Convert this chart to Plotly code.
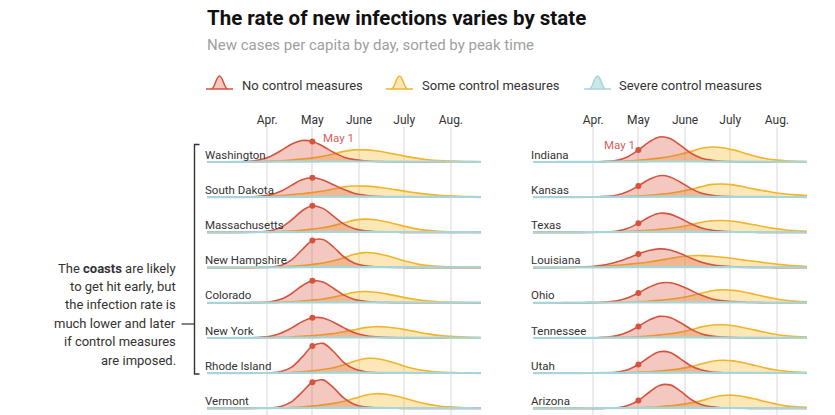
import pandas as pd
import plotly.graph_objects as go

W, H = 835, 415

# ---------------- data ----------------
# weekly samples, Feb 21 2020 .. Aug 21 2020 (27 points, includes May 1)
DATES = pd.date_range("2020-02-21", "2020-08-21", freq="7D")
MAY1 = pd.Timestamp("2020-05-01")

TICK_DATES = ["2020-04-01", "2020-05-01", "2020-06-01", "2020-07-01", "2020-08-01"]
TICK_LABELS = ["Apr.", "May", "June", "July", "Aug."]

LEFT_STATES = ["Washington", "South Dakota", "Massachusetts", "New Hampshire",
               "Colorado", "New York", "Rhode Island", "Vermont"]
RIGHT_STATES = ["Indiana", "Kansas", "Texas", "Louisiana",
                "Ohio", "Tennessee", "Utah", "Arizona"]

# new cases per capita by day (relative units), no control measures
wa_none = [0,0,0,0.2,0.7,2.2,5.6,11.3,17.7,21.5,20.5,15.8,9.7,4.8,2.4,1.2,0.5,0.3,0.1,0,0,0,0,0,0,0,0]
sd_none = [0,0,0,0.1,0.2,0.8,2.3,5.9,11.8,17.5,19.5,17.2,12.5,7.6,3.8,2.0,1.0,0.5,0.3,0.1,0,0,0,0,0,0,0]
ma_none = [0,0,0,0,0.1,0.4,1.5,5.0,12.2,21.4,26.6,24.0,16.2,8.3,3.6,1.5,0.7,0.3,0.1,0,0,0,0,0,0,0,0]
nh_none = [0,0,0,0,0,0.1,0.5,2.2,7.5,17.6,27.2,28.1,20.6,10.6,4.4,1.8,0.7,0.3,0.1,0,0,0,0,0,0,0,0]
co_none = [0,0,0,0,0.1,0.3,1.1,3.5,9.1,16.8,22.0,20.7,14.6,7.7,3.3,1.5,0.6,0.3,0.1,0,0,0,0,0,0,0,0]
ny_none = [0,0,0,0.1,0.2,0.7,1.8,4.8,9.9,16.1,20.2,20.0,15.8,10.1,5.2,2.5,1.2,0.6,0.3,0.1,0,0,0,0,0,0,0]
ri_none = [0,0,0,0,0,0.1,0.3,1.6,5.9,15.8,27.1,29.8,21.7,10.6,4.1,1.5,0.5,0.2,0.1,0,0,0,0,0,0,0,0]
vt_none = [0,0,0,0,0,0.1,0.4,1.8,6.5,16.0,26.1,28.5,20.7,10.2,3.9,1.5,0.5,0.2,0.1,0,0,0,0,0,0,0,0]
in_none = [0,0,0,0,0,0,0.2,0.6,1.8,5.3,11.9,19.9,25.0,23.5,16.6,8.7,3.8,1.7,0.7,0.3,0.1,0,0,0,0,0,0]
ks_none = [0,0,0,0,0,0.1,0.2,0.8,2.2,5.6,11.3,17.7,21.5,20.3,15.0,8.6,3.9,1.8,0.9,0.4,0.2,0.1,0,0,0,0,0]
tx_none = [0,0,0,0,0,0,0.1,0.4,1.4,4.1,9.1,15.2,19.1,18.3,14.0,8.6,4.3,2.1,1.1,0.5,0.2,0.1,0,0,0,0,0]
la_none = [0,0,0,0.1,0.3,0.7,1.5,3.1,5.8,9.5,13.7,17.1,18.7,17.6,14.0,9.3,5.3,2.8,1.5,0.8,0.4,0.2,0.1,0,0,0,0]
oh_none = [0,0,0,0,0,0.1,0.3,0.8,2.0,5.1,9.9,15.5,19.6,20.0,17.1,12.3,7.5,3.9,2.0,1.2,0.6,0.3,0.1,0,0,0,0]
tn_none = [0,0,0,0,0,0.1,0.3,0.9,2.4,5.9,11.6,17.9,21.6,20.4,15.2,8.9,4.1,1.9,0.9,0.4,0.2,0.1,0,0,0,0,0]
ut_none = [0,0,0,0,0,0,0.1,0.3,1.1,3.5,8.7,16.0,21.4,20.8,14.4,7.2,3.1,1.2,0.5,0.2,0.1,0,0,0,0,0,0]
az_none = [0,0,0,0,0,0,0,0.2,0.7,2.8,7.9,15.9,23.0,23.5,17.3,8.9,3.6,1.5,0.6,0.2,0.1,0,0,0,0,0,0]

# some control measures
wa_some = [0,0,0.1,0.2,0.3,0.5,0.8,1.2,2.0,3.0,4.1,5.8,8.0,10.6,12.1,12.1,11.2,9.5,7.5,5.4,3.6,2.3,1.5,1.0,0.7,0.4,0.3]
sd_some = [0,0,0.1,0.2,0.4,0.8,1.1,1.7,2.5,3.4,4.6,6.2,8.2,10.3,11.2,11.1,10.3,8.9,7.3,5.6,4.1,2.8,1.8,1.3,0.9,0.6,0.4]
ma_some = [0,0,0,0.1,0.1,0.3,0.5,0.9,1.4,2.2,3.3,4.7,6.8,9.6,12.3,13.3,12.6,10.6,8.1,5.5,3.3,2.0,1.2,0.7,0.4,0.3,0.1]
nh_some = [0,0,0,0.1,0.1,0.2,0.4,0.7,1.2,2.0,3.2,4.6,6.8,9.8,13.3,15.0,14.3,12.1,9.1,6.0,3.5,2.1,1.2,0.8,0.4,0.2,0.1]
co_some = [0,0,0,0,0.1,0.2,0.3,0.6,1.0,1.7,2.7,3.8,5.8,8.2,10.6,11.3,10.6,8.9,6.9,4.7,2.9,1.8,1.1,0.7,0.4,0.2,0.1]
ny_some = [0,0,0,0.1,0.1,0.2,0.5,0.7,1.0,1.6,2.4,3.2,4.4,6.2,8.3,10.4,11.3,11.0,9.8,8.0,6.0,4.1,2.6,1.7,1.1,0.7,0.5]
ri_some = [0,0,0,0,0,0.1,0.2,0.4,0.7,1.3,2.3,3.7,5.5,8.4,12.0,14.7,14.7,12.7,9.6,6.3,3.7,2.1,1.2,0.7,0.4,0.2,0.1]
vt_some = [0,0,0,0,0.1,0.1,0.3,0.5,0.9,1.4,2.3,3.5,5.0,7.1,10.1,13.2,14.7,14.1,12.1,9.4,6.4,4.0,2.4,1.5,0.9,0.5,0.3]
in_some = [0,0,0,0,0,0.1,0.2,0.4,0.7,1.1,1.8,2.7,3.9,5.5,7.8,10.7,13.7,15.0,14.3,12.1,9.1,6.0,3.5,2.1,1.2,0.8,0.4]
ks_some = [0,0,0,0,0,0.1,0.1,0.3,0.5,0.8,1.2,1.9,2.9,4.0,5.7,7.8,10.6,12.8,13.2,12.3,10.4,8.1,6.3,4.5,3.2,2.3,1.7]
tx_some = [0,0,0,0,0,0.1,0.2,0.4,0.6,0.9,1.4,2.1,3.0,4.1,5.6,7.7,10.2,11.7,11.9,11.1,9.5,7.6,5.6,3.8,2.4,1.7,1.0]
la_some = [0,0,0,0.1,0.2,0.5,1.0,1.6,2.4,3.3,4.3,5.6,7.2,9.1,10.8,11.8,12.0,11.4,10.4,9.1,7.5,6.3,4.9,3.6,2.5,1.7,1.1]
oh_some = [0,0,0,0,0,0,0.1,0.2,0.4,0.6,1.0,1.6,2.5,3.5,5.0,7.1,9.6,12.1,13.0,12.4,10.8,8.6,6.2,4.1,2.5,1.6,1.0]
tn_some = [0,0,0,0,0,0.1,0.2,0.3,0.5,0.8,1.3,2.0,3.1,4.2,5.9,8.2,11.1,13.0,13.2,12.2,10.3,8.1,5.8,3.8,2.3,1.5,1.0]
ut_some = [0,0,0,0,0,0,0,0.1,0.3,0.5,0.8,1.4,2.1,3.2,4.6,6.6,9.4,12.0,13.0,12.3,10.4,7.9,5.3,3.2,2.0,1.2,0.7]
az_some = [0,0,0,0,0,0,0,0.1,0.2,0.4,0.6,1.0,1.7,2.7,3.8,5.5,7.8,10.9,12.9,13.2,11.8,9.6,6.9,4.5,2.5,1.6,1.0]

# severe control measures: barely above zero in every state
severe = [0,0,0,0.1,0.1,0.2,0.2,0.3,0.3,0.4,0.4,0.5,0.5,0.5,0.5,0.5,0.5,0.4,0.4,0.4,0.3,0.3,0.3,0.2,0.2,0.2,0.1]

NONE = {"Washington": wa_none, "South Dakota": sd_none, "Massachusetts": ma_none,
        "New Hampshire": nh_none, "Colorado": co_none, "New York": ny_none,
        "Rhode Island": ri_none, "Vermont": vt_none, "Indiana": in_none,
        "Kansas": ks_none, "Texas": tx_none, "Louisiana": la_none, "Ohio": oh_none,
        "Tennessee": tn_none, "Utah": ut_none, "Arizona": az_none}
SOME = {"Washington": wa_some, "South Dakota": sd_some, "Massachusetts": ma_some,
        "New Hampshire": nh_some, "Colorado": co_some, "New York": ny_some,
        "Rhode Island": ri_some, "Vermont": vt_some, "Indiana": in_some,
        "Kansas": ks_some, "Texas": tx_some, "Louisiana": la_some, "Ohio": oh_some,
        "Tennessee": tn_some, "Utah": ut_some, "Arizona": az_some}

NOTE_LINES = ["The <b>coasts</b> are likely", "to get hit early, but",
              "the infection rate is", "much lower and later",
              "if control measures", "are imposed."]

# ---------------- style ----------------
RED, RED_FILL = "#d6533e", "rgba(214,83,62,0.32)"
ORANGE, ORANGE_FILL = "#f2b42c", "rgba(245,185,45,0.34)"
TEAL, TEAL_FILL = "#a6d6da", "rgba(166,214,218,0.6)"
TEXT = "#333333"
FONT = "Roboto, 'Liberation Sans', sans-serif"

PLOT_TOP = 127          # px, top of the ridge panels
FIRST_BASE = 162        # px, baseline of first row
ROW_STEP = 35.2         # px between rows
Y_SPAN = H - PLOT_TOP   # y-axis units == pixels

fig = go.Figure()
may1_idx = list(DATES).index(MAY1)


def px(x):
    return x / W


def py(y):
    return 1 - y / H


def label(text, x, y, size, color=TEXT, xanchor="left", family=FONT):
    return dict(text=text, xref="paper", yref="paper", x=px(x), y=py(y),
                xanchor=xanchor, yanchor="middle", showarrow=False,
                font=dict(family=family, size=size, color=color))


panels = [(LEFT_STATES, "x", "y", [207, 481]), (RIGHT_STATES, "x2", "y2", [533, 807])]

annotations = []
for states, xa, ya, dom in panels:
    for i, st in enumerate(states):
        base_px = FIRST_BASE + ROW_STEP * i
        base = H - base_px
        ybase = [base] * len(DATES)
        for vals, lc, fc in [(SOME[st], ORANGE, ORANGE_FILL),
                             (NONE[st], RED, RED_FILL),
                             (severe, TEAL, TEAL_FILL)]:
            fig.add_trace(go.Scatter(x=DATES, y=ybase, mode="lines", line=dict(width=0),
                                     xaxis=xa, yaxis=ya, hoverinfo="skip", showlegend=False))
            fig.add_trace(go.Scatter(x=DATES, y=[base + v for v in vals], mode="lines",
                                     line=dict(color=lc, width=1.6 if lc != TEAL else 2.2,
                                               shape="spline", smoothing=1),
                                     fill="tonexty", fillcolor=fc,
                                     xaxis=xa, yaxis=ya, hoverinfo="skip", showlegend=False))
        fig.add_trace(go.Scatter(x=[MAY1], y=[base + NONE[st][may1_idx]], mode="markers",
                                 marker=dict(color=RED, size=6), xaxis=xa, yaxis=ya,
                                 hoverinfo="skip", showlegend=False))
        annotations.append(label(st, dom[0] - 4, base_px - 7.5, 11.5))

axis_common = dict(type="date", range=["2020-02-21", "2020-08-21"], side="top",
                   tickvals=TICK_DATES, ticktext=TICK_LABELS, ticks="",
                   showgrid=True, gridcolor="#ebebeb", gridwidth=1.5, zeroline=False,
                   showline=False, tickfont=dict(family=FONT, size=12, color=TEXT))
yaxis_common = dict(range=[0, Y_SPAN], domain=[0, Y_SPAN / H], visible=False, fixedrange=True)

fig.update_layout(
    width=W, height=H, margin=dict(l=0, r=0, t=0, b=0),
    paper_bgcolor="white", plot_bgcolor="white", showlegend=False,
    xaxis=dict(domain=[px(207), px(481)], anchor="y", **axis_common),
    yaxis=dict(anchor="x", **yaxis_common),
    xaxis2=dict(domain=[px(533), px(807)], anchor="y2", **axis_common),
    yaxis2=dict(anchor="x2", **yaxis_common),
)

# "May 1" labels
annotations.append(label("May 1", 321, 138, 11.5, color="#d4605e"))
annotations.append(label("May 1", 637, 145, 11.5, color="#d4605e", xanchor="right"))

# title & subtitle
annotations.append(label("<b>The rate of new infections varies by state</b>", 205, 18, 20.5,
                         color="#111111"))
annotations.append(label("New cases per capita by day, sorted by peak time", 205, 45, 15,
                         color="#a0a0a0"))

# legend
legend_items = [("No control measures", RED, RED_FILL, 206, 240),
                ("Some control measures", ORANGE, ORANGE_FILL, 386, 420),
                ("Severe control measures", TEAL, TEAL_FILL, 584, 617)]
shapes = []
for text, lc, fc, x0, tx in legend_items:
    b, t = 89, 76
    path = (f"M {px(x0)},{py(b)} L {px(x0+5)},{py(b)} "
            f"C {px(x0+9)},{py(b)} {px(x0+10)},{py(t)} {px(x0+13.5)},{py(t)} "
            f"C {px(x0+17)},{py(t)} {px(x0+18)},{py(b)} {px(x0+22)},{py(b)} "
            f"L {px(x0+27)},{py(b)} Z")
    shapes.append(dict(type="path", path=path, xref="paper", yref="paper",
                       fillcolor=fc, line=dict(color=lc, width=1.5)))
    annotations.append(label(text, tx, 86, 13))

# bracket + note
shapes.append(dict(type="path", xref="paper", yref="paper",
                   path=f"M {px(199.5)},{py(144.5)} L {px(194.5)},{py(144.5)} "
                        f"L {px(194.5)},{py(374)} L {px(199.5)},{py(374)}",
                   line=dict(color="#333333", width=1.4)))
shapes.append(dict(type="line", xref="paper", yref="paper", x0=px(181.5), x1=px(194.5),
                   y0=py(324), y1=py(324), line=dict(color="#333333", width=1.2)))
for k, line_text in enumerate(NOTE_LINES):
    annotations.append(label(line_text, 178, 268 + 18.4 * k, 13, xanchor="right"))

fig.update_layout(annotations=annotations, shapes=shapes)
fig.write_html("out.html")
